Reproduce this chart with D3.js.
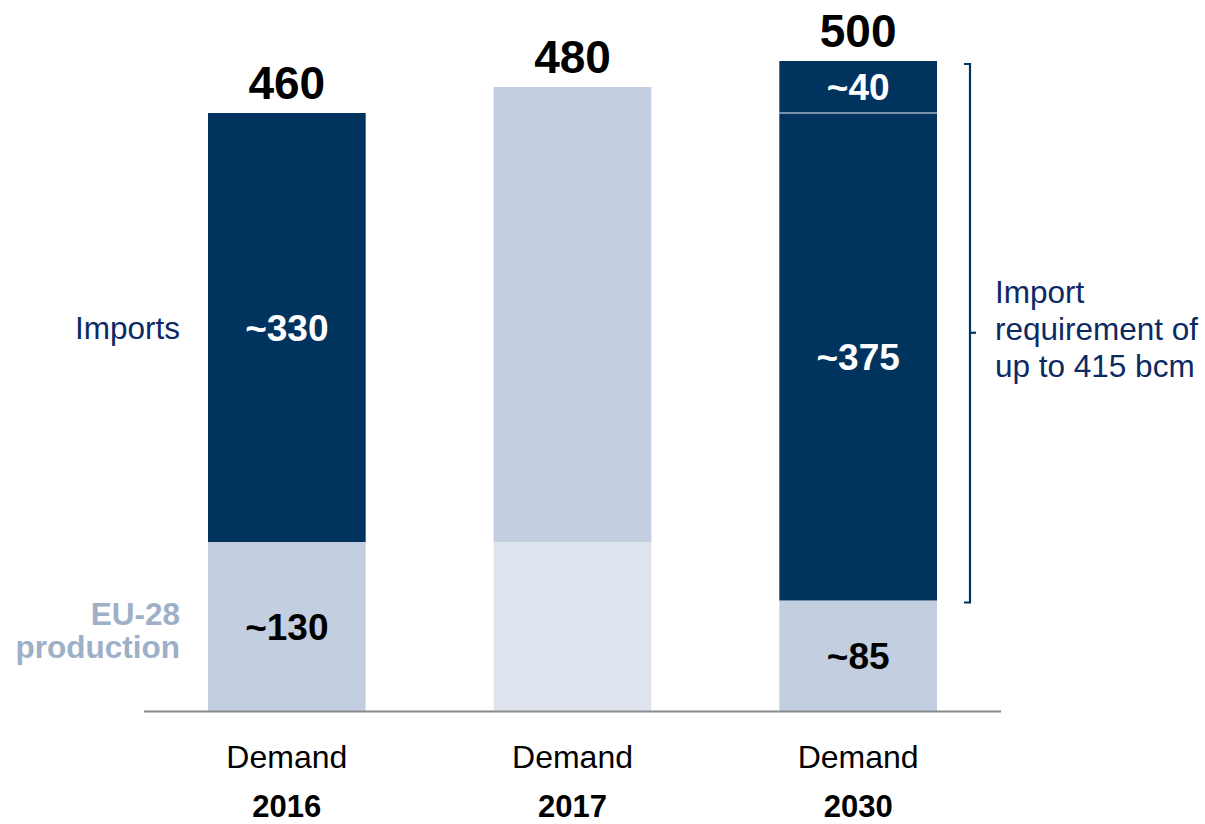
<!DOCTYPE html>
<html>
<head>
<meta charset="utf-8">
<script src="https://cdn.jsdelivr.net/npm/d3@7"></script>
<style>
  html, body { margin: 0; padding: 0; background: #ffffff; }
  svg { display: block; font-family: Arial, "Liberation Sans", Helvetica, sans-serif; }
</style>
</head>
<body>
<svg id="chart" width="1205" height="824"></svg>
<script>
// EU gas demand, bcm
const years = ["2016", "2017", "2030"];
const categoryLabel = "Demand";
const totals = [460, 480, 500];
const production = [130, 130, 85];          // EU-28 production (bottom segment)
const imports = [330, 350, 375];            // imports (middle segment)
const additionalImports = [0, 0, 40];       // extra import need (top segment)
const productionLabels = ["~130", "", "~85"];
const importLabels = ["~330", "", "~375"];
const additionalLabels = ["", "", "~40"];
const bracketText = ["Import", "requirement of", "up to 415 bcm"];

const NAVY = "#01335f";
const LIGHT = "#c3cee0";
const LIGHTER = "#dee4ee";
const TEXT_NAVY = "#0b2a63";
const PROD_TEXT = "#9eb0c8";

const svg = d3.select("#chart");

const x = d3.scaleBand()
  .domain(years)
  .range([144, 1001])
  .paddingInner(0.448)
  .paddingOuter(0.224);

const y = d3.scaleLinear()
  .domain([0, 500])
  .range([711, 61]);

// Stacked segments per year; 2017 is shown greyed out
const rows = years.map((yr, i) => ({
  year: yr,
  production: production[i],
  imports: imports[i],
  additional: additionalImports[i],
  total: totals[i],
  muted: yr === "2017"
}));

const stack = d3.stack().keys(["production", "imports", "additional"]);
const series = stack(rows);

function segFill(key, d) {
  if (d.data.muted) return key === "production" ? LIGHTER : LIGHT;
  return key === "production" ? LIGHT : NAVY;
}

const segLabels = { production: productionLabels, imports: importLabels, additional: additionalLabels };

series.forEach(s => {
  const key = s.key;
  const g = svg.append("g");
  g.selectAll("rect")
    .data(s.filter(d => d[1] > d[0]))
    .join("rect")
    .attr("x", d => x(d.data.year))
    .attr("width", x.bandwidth())
    .attr("y", d => y(d[1]))
    .attr("height", d => y(d[0]) - y(d[1]))
    .attr("fill", d => segFill(key, d));

  g.selectAll("text")
    .data(s.map((d, i) => ({ d, i })).filter(o => segLabels[key][o.i]))
    .join("text")
    .attr("x", o => x(o.d.data.year) + x.bandwidth() / 2)
    .attr("y", o => (y(o.d[0]) + y(o.d[1])) / 2)
    .attr("dy", "0.36em")
    .attr("text-anchor", "middle")
    .attr("font-size", 37)
    .attr("font-weight", "bold")
    .attr("fill", key === "production" ? "#000000" : "#ffffff")
    .text(o => segLabels[key][o.i]);
});

// Thin divider above the additional-imports segment
svg.append("g").selectAll("line")
  .data(series[2].filter(d => d[1] > d[0]))
  .join("line")
  .attr("x1", d => x(d.data.year))
  .attr("x2", d => x(d.data.year) + x.bandwidth())
  .attr("y1", d => y(d[0]))
  .attr("y2", d => y(d[0]))
  .attr("stroke", "#eef2f7")
  .attr("stroke-width", 1.2);

// Totals above the bars
svg.append("g").selectAll("text")
  .data(rows)
  .join("text")
  .attr("x", d => x(d.year) + x.bandwidth() / 2)
  .attr("y", d => y(d.total) - 14)
  .attr("text-anchor", "middle")
  .attr("font-size", 46)
  .attr("font-weight", "bold")
  .attr("fill", "#000000")
  .text(d => d.total);

// Baseline
svg.append("line")
  .attr("x1", 144).attr("x2", 1001)
  .attr("y1", y(0) + 0.5).attr("y2", y(0) + 0.5)
  .attr("stroke", "#8a8a8a")
  .attr("stroke-width", 2);

// Category labels
const xl = svg.append("g");
xl.selectAll("text.cat")
  .data(years)
  .join("text")
  .attr("class", "cat")
  .attr("x", d => x(d) + x.bandwidth() / 2)
  .attr("y", 768)
  .attr("text-anchor", "middle")
  .attr("font-size", 32)
  .attr("fill", "#000000")
  .text(categoryLabel);
xl.selectAll("text.yr")
  .data(years)
  .join("text")
  .attr("class", "yr")
  .attr("x", d => x(d) + x.bandwidth() / 2)
  .attr("y", 817)
  .attr("text-anchor", "middle")
  .attr("font-size", 31)
  .attr("font-weight", "bold")
  .attr("fill", "#000000")
  .text(d => d);

// Series labels on the left, aligned with the 2016 bar
const first = series.map(s => s[0]);
svg.append("text")
  .attr("x", 180)
  .attr("y", (y(first[1][0]) + y(first[1][1])) / 2)
  .attr("dy", "0.36em")
  .attr("text-anchor", "end")
  .attr("font-size", 31.5)
  .attr("fill", TEXT_NAVY)
  .text("Imports");

const prodMid = (y(first[0][0]) + y(first[0][1])) / 2;
svg.append("text")
  .attr("x", 180)
  .attr("y", prodMid)
  .attr("text-anchor", "end")
  .attr("font-size", 31.5)
  .attr("font-weight", "bold")
  .attr("fill", PROD_TEXT)
  .selectAll("tspan")
  .data(["EU-28", "production"])
  .join("tspan")
  .attr("x", 180)
  .attr("dy", (d, i) => i === 0 ? "-0.06em" : "1.07em")
  .text(d => d);

// Bracket spanning the 2030 import requirement
const last = rows.length - 1;
const bTop = y(series[2][last][1]);
const bBot = y(series[1][last][0]);
const bx = 970;
const bMid = (bTop + bBot) / 2 + 2;
svg.append("path")
  .attr("d", `M${bx - 6},${bTop + 3} L${bx},${bTop + 3} L${bx},${bBot + 2} L${bx - 6},${bBot + 2}`)
  .attr("fill", "none")
  .attr("stroke", NAVY)
  .attr("stroke-width", 2.2);
svg.append("line")
  .attr("x1", bx).attr("x2", bx + 6)
  .attr("y1", bMid).attr("y2", bMid)
  .attr("stroke", NAVY)
  .attr("stroke-width", 2.2);

svg.append("text")
  .attr("x", 995)
  .attr("y", bMid)
  .attr("font-size", 31.5)
  .attr("fill", TEXT_NAVY)
  .selectAll("tspan")
  .data(bracketText)
  .join("tspan")
  .attr("x", 995)
  .attr("y", (d, i) => bMid + 7 + (i - 1) * 37)
  .text(d => d);
</script>
</body>
</html>
